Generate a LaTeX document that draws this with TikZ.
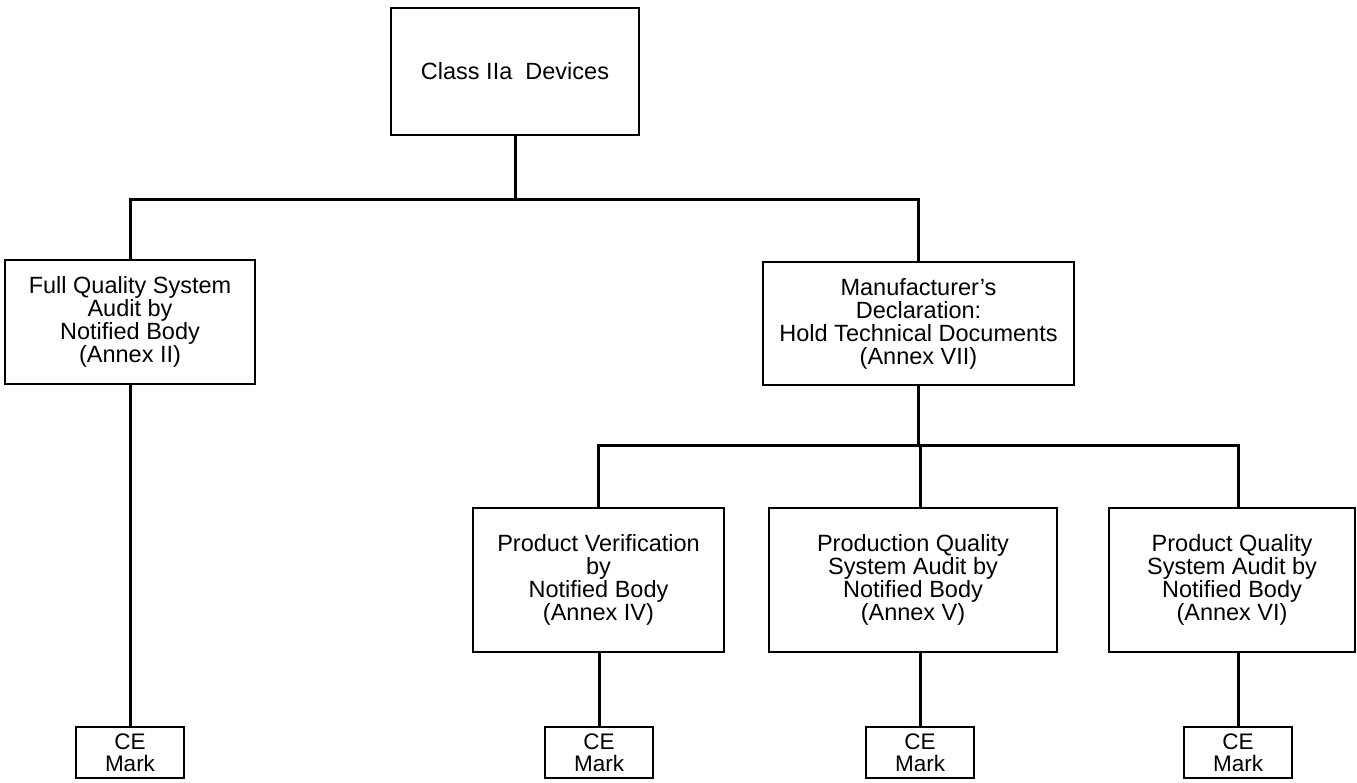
\documentclass[tikz,border=0pt]{standalone}
\usepackage{fontspec}
\setmainfont{Liberation Sans}
\tikzstyle{box}=[draw=black, line width=2pt, align=center, inner sep=2pt, font=\fontsize{23.5}{23}\selectfont]
\tikzstyle{markbox}=[box, minimum width=108pt, minimum height=51pt, font=\fontsize{22.5}{22}\selectfont]
\tikzstyle{link}=[line width=3pt]

\begin{document}
\begin{tikzpicture}[x=1pt, y=-1pt]
            \useasboundingbox (0,0) rectangle (1357,782);
            \node[box, minimum width=248pt, minimum height=127pt] (class) at (515,71.5) {Class IIa\ \ Devices};
            \node[box, minimum width=250pt, minimum height=124pt] (full) at (130,322) {Full Quality System\\Audit by\\Notified Body\\(Annex II)};
            \node[box, minimum width=311pt, minimum height=123pt] (decl) at (918.5,323.5) {Manufacturer's\\Declaration:\\Hold Technical Documents\\(Annex VII)};
            \node[box, minimum width=251pt, minimum height=144pt] (verif) at (598.5,580) {Product Verification\\by\\Notified Body\\(Annex IV)};
            \node[box, minimum width=288pt, minimum height=144pt] (prodn) at (913,580) {Production Quality\\System Audit by\\Notified Body\\(Annex V)};
            \node[box, minimum width=246pt, minimum height=144pt] (prodq) at (1232,580) {Product Quality\\System Audit by\\Notified Body\\(Annex VI)};
            \node[markbox] (ce1) at (130,752.5) {CE\\Mark};
            \node[markbox] (ce2) at (599,752.5) {CE\\Mark};
            \node[markbox] (ce3) at (920,752.5) {CE\\Mark};
            \node[markbox] (ce4) at (1238,752.5) {CE\\Mark};
            \draw[link] (class.south) -- ++(0,63) -| (full.north);
            \draw[link] (class.south) -- ++(0,63) -| (decl.north);
            \draw[link] (decl.south) -- ++(0,59) -| (verif.north);
            \draw[link] (decl.south) -- ++(0,59) -| (ce3.north |- prodn.north);
            \draw[link] (decl.south) -- ++(0,59) -| (ce4.north |- prodq.north);
            \draw[link] (full.south) -- (ce1.north);
            \draw[link] (ce2.north |- verif.south) -- (ce2.north);
            \draw[link] (ce3.north |- prodn.south) -- (ce3.north);
            \draw[link] (ce4.north |- prodq.south) -- (ce4.north);
	    \end{tikzpicture}
\end{document}
